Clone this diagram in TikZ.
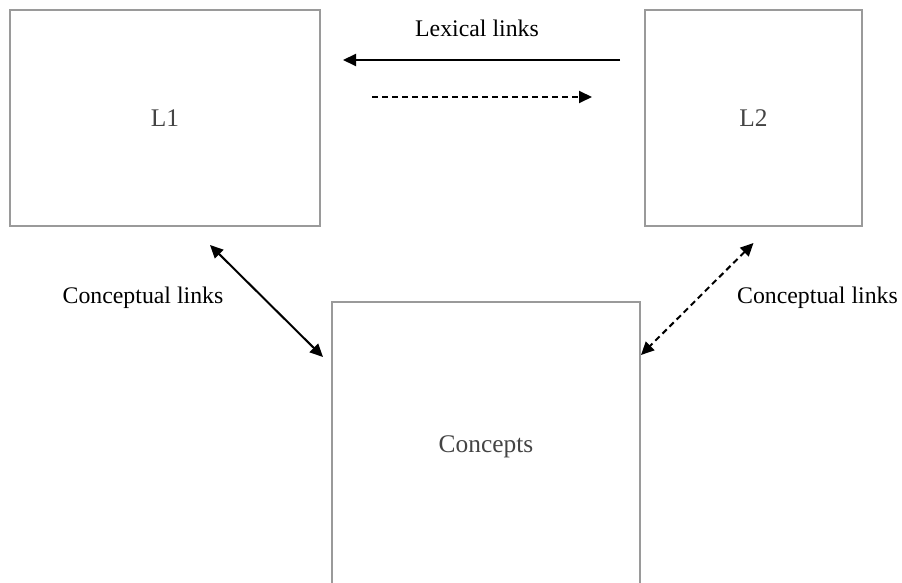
\documentclass[tikz,border=0pt]{standalone}
\usepackage{tikz}
\usetikzlibrary{positioning,arrows.meta}
\usepackage{fontspec}
\setmainfont{Liberation Serif}
\definecolor{boxline}{HTML}{9A9A9A}
\definecolor{boxtext}{HTML}{444444}

\tikzset{
	box/.style={draw=boxline, line width=1pt, rectangle, outer sep=0pt,%
		text=boxtext, font=\fontsize{12.7}{15}\selectfont},
	link/.style={line width=1pt, draw=black},
	dashlink/.style={link, dash pattern=on 3pt off 2pt},
	lbl/.style={font=\fontsize{11.9}{14}\selectfont, inner sep=0pt}
}

\begin{document}
\begin{tikzpicture}[x=0.5pt, y=-0.5pt, >={Triangle[length=6.5pt,width=6pt]}]
	\clip (0,0) rectangle (902,583);
	% the three stores
	\node[box, minimum width=155pt, minimum height=108pt] (L1) at (165,118) {L1};
	\node[box, minimum width=108.5pt, minimum height=108pt] (L2) at (753.5,118) {L2};
	\node[box, minimum width=154pt, minimum height=145pt] (C) at (486,447) {Concepts};
	% labels
	\node[lbl] (lex) at (477,28) {Lexical links};
	\node[lbl] (cl1) at (143,298) {Conceptual links};
	\node[lbl] (cl2) at (817.5,298) {Conceptual links};
	% lexical links
	\draw[link, ->, shorten <=12.5pt, shorten >=11.5pt] (L2.west |- 0,60) -- (L1.east |- 0,60);
	\draw[dashlink, ->, shorten <=26pt, shorten >=26.5pt] (L1.east |- 0,97) -- (L2.west |- 0,97);
	% conceptual links
	\draw[link, <->] ([xshift=22.5pt,yshift=-9.5pt]L1.south) -- ([xshift=-4.5pt,yshift=-27.5pt]C.north west);
	\draw[dashlink, <->] ([yshift=-8.5pt]L2.south) -- ([xshift=0.5pt,yshift=-26.5pt]C.north east);
\end{tikzpicture}
\end{document}
